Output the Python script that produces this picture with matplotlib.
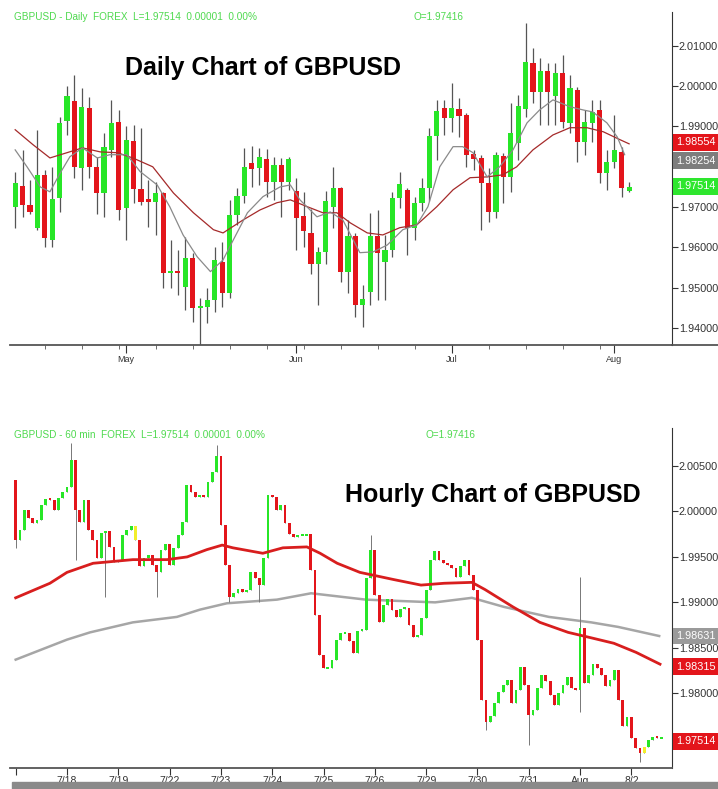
import numpy as np
import pandas as pd
import matplotlib
matplotlib.use("Agg")
import matplotlib.pyplot as plt
from matplotlib.transforms import blended_transform_factory

plt.rcParams['font.family'] = ['Liberation Sans', 'DejaVu Sans']

# ---- daily GBPUSD candles ----
daily_open = [1.9700, 1.9753, 1.9706, 1.9649, 1.9780, 1.9619, 1.9723, 1.9914, 1.9964, 1.9797,
              1.9946, 1.9800, 1.9735, 1.9842, 1.9911, 1.9698, 1.9864, 1.9745, 1.9720, 1.9713,
              1.9735, 1.9537, 1.9542, 1.9502, 1.9574, 1.9450, 1.9453, 1.9470, 1.9564, 1.9487,
              1.9681, 1.9728, 1.9810, 1.9797, 1.9820, 1.9763, 1.9805, 1.9763, 1.9740, 1.9678,
              1.9636, 1.9559, 1.9589, 1.9700, 1.9748, 1.9540, 1.9629, 1.9458, 1.9490, 1.9629,
              1.9564, 1.9594, 1.9723, 1.9743, 1.9649, 1.9711, 1.9748, 1.9877, 1.9946, 1.9921,
              1.9944, 1.9929, 1.9832, 1.9822, 1.9760, 1.9688, 1.9827, 1.9775, 1.9860, 1.9944,
              2.0058, 1.9986, 2.0038, 1.9976, 2.0033, 1.9909, 1.9991, 1.9862, 1.9909, 1.9941,
              1.9785, 1.9812, 1.9837, 1.9741]
daily_high = [1.9788, 1.9842, 1.9768, 1.9892, 1.9792, 1.9800, 1.9924, 2.0000, 2.0028, 1.9996,
              1.9973, 1.9825, 1.9884, 1.9966, 1.9941, 1.9900, 1.9904, 1.9897, 1.9768, 1.9763,
              1.9738, 1.9619, 1.9594, 1.9626, 1.9587, 1.9475, 1.9500, 1.9600, 1.9614, 1.9718,
              1.9748, 1.9847, 1.9852, 1.9847, 1.9845, 1.9825, 1.9822, 1.9825, 1.9773, 1.9738,
              1.9696, 1.9600, 1.9740, 1.9800, 1.9750, 1.9668, 1.9636, 1.9507, 1.9686, 1.9693,
              1.9631, 1.9738, 1.9788, 1.9748, 1.9726, 1.9773, 1.9897, 1.9966, 1.9966, 2.0008,
              1.9971, 1.9934, 1.9842, 1.9830, 1.9797, 1.9837, 1.9835, 1.9959, 1.9978, 2.0157,
              2.0095, 2.0070, 2.0058, 2.0058, 2.0078, 2.0028, 1.9998, 1.9941, 1.9966, 1.9966,
              1.9842, 1.9929, 1.9850, 1.9763]
daily_low = [1.9649, 1.9676, 1.9683, 1.9644, 1.9600, 1.9600, 1.9689, 1.9880, 1.9773, 1.9743,
             1.9773, 1.9683, 1.9676, 1.9825, 1.9668, 1.9619, 1.9710, 1.9706, 1.9651, 1.9631,
             1.9500, 1.9500, 1.9482, 1.9445, 1.9415, 1.9353, 1.9413, 1.9440, 1.9453, 1.9475,
             1.9656, 1.9711, 1.9750, 1.9755, 1.9726, 1.9718, 1.9676, 1.9743, 1.9594, 1.9602,
             1.9535, 1.9458, 1.9559, 1.9649, 1.9515, 1.9487, 1.9428, 1.9403, 1.9458, 1.9470,
             1.9470, 1.9577, 1.9698, 1.9582, 1.9619, 1.9690, 1.9716, 1.9817, 1.9880, 1.9887,
             1.9874, 1.9800, 1.9792, 1.9644, 1.9663, 1.9673, 1.9710, 1.9738, 1.9817, 1.9924,
             1.9958, 1.9904, 1.9904, 1.9904, 1.9897, 1.9884, 1.9812, 1.9830, 1.9862, 1.9760,
             1.9743, 1.9797, 1.9726, 1.9738]
daily_close = [1.9760, 1.9706, 1.9689, 1.9780, 1.9624, 1.9721, 1.9909, 1.9976, 1.9800, 1.9949,
               1.9800, 1.9735, 1.9850, 1.9909, 1.9693, 1.9867, 1.9745, 1.9713, 1.9713, 1.9735,
               1.9537, 1.9542, 1.9537, 1.9574, 1.9450, 1.9455, 1.9470, 1.9569, 1.9487, 1.9681,
               1.9728, 1.9800, 1.9795, 1.9825, 1.9763, 1.9805, 1.9763, 1.9820, 1.9673, 1.9641,
               1.9559, 1.9589, 1.9716, 1.9748, 1.9540, 1.9629, 1.9458, 1.9473, 1.9629, 1.9587,
               1.9594, 1.9723, 1.9758, 1.9649, 1.9711, 1.9748, 1.9877, 1.9939, 1.9921, 1.9946,
               1.9926, 1.9830, 1.9820, 1.9760, 1.9688, 1.9830, 1.9775, 1.9884, 1.9951, 2.0060,
               1.9986, 2.0038, 1.9986, 2.0033, 1.9912, 1.9996, 1.9862, 1.9912, 1.9936, 1.9785,
               1.9812, 1.9842, 1.9748, 1.9751]

# moving averages on the daily chart (candle position, value)
daily_ma_slow_pos = [0, 2.4, 4.7, 7.0, 9.1, 11.5, 13.8, 15.9, 18.6, 21.4, 24.1, 26.8, 28.1, 30.8,
                     33.1, 35.4, 37.2, 39.5, 41.6, 43.5, 45.3, 47.6, 49.7, 52.0, 54.3, 57.0,
                     59.2, 61.5, 63.8, 65.9, 67.8, 70.0, 72.7, 75.0, 77.3, 79.5, 81.8, 83.0]
daily_ma_slow = [1.9892, 1.9855, 1.9822, 1.9835, 1.9847, 1.9837, 1.9835, 1.9822, 1.9800, 1.9735,
                 1.9686, 1.9644, 1.9636, 1.9668, 1.9693, 1.9711, 1.9718, 1.9701, 1.9686, 1.9686,
                 1.9661, 1.9636, 1.9631, 1.9649, 1.9656, 1.9701, 1.9743, 1.9773, 1.9775, 1.9780,
                 1.9800, 1.9842, 1.9879, 1.9897, 1.9897, 1.9887, 1.9867, 1.9857]
daily_ma_fast_pos = [0, 1.6, 3.4, 4.7, 6.1, 7.4, 9.1, 11.1, 12.8, 15.1, 16.9, 19.2, 20.9, 22.7,
                     24.6, 26.4, 28.1, 29.5, 31.4, 33.5, 35.8, 37.2, 38.5, 40.8, 42.6, 44.3,
                     46.6, 48.4, 50.3, 52.4, 54.3, 55.8, 57.4, 59.2, 60.5, 61.9, 63.8, 65.5,
                     67.3, 69.2, 70.9, 72.7, 75.0, 76.8, 78.1, 80.0, 81.4, 82.4]
daily_ma_fast = [1.9842, 1.9800, 1.9750, 1.9738, 1.9785, 1.9825, 1.9847, 1.9822, 1.9830, 1.9830,
                 1.9788, 1.9755, 1.9701, 1.9631, 1.9577, 1.9540, 1.9569, 1.9619, 1.9686, 1.9726,
                 1.9750, 1.9755, 1.9718, 1.9676, 1.9688, 1.9668, 1.9587, 1.9589, 1.9606, 1.9644,
                 1.9656, 1.9701, 1.9800, 1.9850, 1.9850, 1.9835, 1.9775, 1.9800, 1.9842, 1.9909,
                 1.9941, 1.9966, 1.9949, 1.9941, 1.9936, 1.9909, 1.9874, 1.9830]

# ---- hourly chart (2-hour steps) ----
hourly_first_open = 2.0035
hourly_close = [1.9969, 1.9980, 2.0002, 1.9993, 1.9987, 1.9991, 2.0007, 2.0014, 2.0013, 2.0002,
                2.0015, 2.0021, 2.0027, 2.0057, 2.0002, 1.9988, 2.0013, 1.9980, 1.9969, 1.9949,
                1.9976, 1.9979, 1.9961, 1.9944, 1.9947, 1.9974, 1.9980, 1.9984, 1.9969, 1.9940,
                1.9949, 1.9952, 1.9941, 1.9933, 1.9958, 1.9964, 1.9941, 1.9960, 1.9974, 1.9988,
                2.0029, 2.0021, 2.0016, 2.0018, 2.0016, 2.0032, 2.0043, 2.0061, 1.9985, 1.9941,
                1.9906, 1.9910, 1.9915, 1.9911, 1.9914, 1.9933, 1.9927, 1.9919, 1.9949, 2.0018,
                2.0016, 2.0002, 2.0007, 1.9987, 1.9975, 1.9972, 1.9974, 1.9974, 1.9975, 1.9936,
                1.9886, 1.9842, 1.9828, 1.9828, 1.9837, 1.9859, 1.9866, 1.9866, 1.9858, 1.9844,
                1.9869, 1.9870, 1.9927, 1.9958, 1.9908, 1.9878, 1.9897, 1.9904, 1.9892, 1.9884,
                1.9893, 1.9894, 1.9875, 1.9862, 1.9864, 1.9883, 1.9914, 1.9947, 1.9957, 1.9947,
                1.9943, 1.9941, 1.9938, 1.9928, 1.9940, 1.9947, 1.9930, 1.9914, 1.9859, 1.9793,
                1.9768, 1.9775, 1.9789, 1.9801, 1.9809, 1.9815, 1.9789, 1.9804, 1.9829, 1.9809,
                1.9776, 1.9782, 1.9806, 1.9820, 1.9814, 1.9798, 1.9787, 1.9800, 1.9809, 1.9818,
                1.9806, 1.9804, 1.9872, 1.9811, 1.9820, 1.9832, 1.9828, 1.9820, 1.9808, 1.9815,
                1.9826, 1.9793, 1.9764, 1.9774, 1.9751, 1.9740, 1.9734, 1.9741, 1.9749, 1.9752,
                1.9751, 1.9751]
hourly_spike_hi_idx = [0, 13, 47, 83, 132]
hourly_spike_hi = [2.0035, 2.0075, 2.0073, 1.9974, 1.9928]
hourly_spike_lo_idx = [0, 14, 21, 33, 50, 57, 110, 120, 132, 146]
hourly_spike_lo = [1.9960, 1.9947, 1.9906, 1.9906, 1.9900, 1.9900, 1.9760, 1.9743, 1.9779, 1.9724]
hourly_yellow_idx = [28, 147]
hourly_days = ['', '7/18', '7/19', '7/22', '7/23', '7/24', '7/25', '7/26',
               '7/29', '7/30', '7/31', 'Aug', '8/2']
bars_per_day = 12

hourly_ma_red_pos = [0, 8.0, 12.0, 18.1, 27.4, 35.4, 40.1, 44.7, 48.3, 50.8, 57.8, 62.5, 68.1,
                     71.2, 75.2, 80.5, 88.5, 94.8, 100.2, 106.7, 109.8, 116.3, 122.6, 129.2,
                     134.6, 139.9, 145.1, 150.7]
hourly_ma_red = [1.9905, 1.9921, 1.9933, 1.9943, 1.9947, 1.9947, 1.9950, 1.9958, 1.9963, 1.9960,
                 1.9954, 1.9960, 1.9961, 1.9954, 1.9943, 1.9933, 1.9925, 1.9919, 1.9921, 1.9922,
                 1.9914, 1.9895, 1.9878, 1.9867, 1.9861, 1.9855, 1.9845, 1.9832]
hourly_ma_grey_pos = [0, 12.0, 17.4, 27.4, 37.7, 43.1, 49.4, 61.1, 69.1, 81.9, 98.1, 106.7,
                      114.2, 124.7, 134.6, 140.9, 150.5]
hourly_ma_grey = [1.9837, 1.9859, 1.9867, 1.9878, 1.9884, 1.9892, 1.9899, 1.9903, 1.9910, 1.9903,
                  1.9900, 1.9905, 1.9895, 1.9884, 1.9878, 1.9873, 1.9863]

W, H = 718, 789
GREEN = '#27e627'
RED = '#e3151b'
HDR = '#4fd94f'


def box(l, t, r, b):
    return [l / W, 1 - b / H, (r - l) / W, (b - t) / H]


def candles(ax, o, h, l, c, width, wick_col, wick_lw, min_body, colors):
    x = np.arange(len(c))
    ax.vlines(x, l, h, color=wick_col, lw=wick_lw, zorder=1)
    body = np.maximum(np.abs(c - o), min_body)
    bottom = np.minimum(o, c) - (body - np.abs(c - o)) / 2
    ax.bar(x, body, bottom=bottom, width=width, color=colors, linewidth=0, zorder=2)


def tag(ax, price, text, fc, dy=0):
    tr = blended_transform_factory(ax.transAxes, ax.transData)
    ax.annotate(text, xy=(1.0, price), xycoords=tr, xytext=(4, dy),
                textcoords='offset pixels', ha='left', va='center', fontsize=7.8,
                color='white', annotation_clip=False, zorder=10,
                bbox=dict(boxstyle='square,pad=0.3', fc=fc, ec='none'))


def style(ax):
    ax.set_facecolor('white')
    ax.spines['top'].set_visible(False)
    ax.spines['left'].set_visible(False)
    ax.spines['right'].set_color('#333333')
    ax.spines['bottom'].set_color('#555555')
    ax.spines['bottom'].set_linewidth(1.3)
    ax.yaxis.tick_right()
    ax.tick_params(axis='y', direction='out', length=4, labelsize=7.8,
                   colors='#333333', pad=1)


fig = plt.figure(figsize=(W / 100, H / 100), dpi=100)
fig.patch.set_facecolor('white')

# ---------------- daily ----------------
ax1 = fig.add_axes(box(10, 12, 672, 345))
style(ax1)
do, dh, dl, dc = map(np.array, (daily_open, daily_high, daily_low, daily_close))
dcol = [GREEN if c >= o else RED for o, c in zip(do, dc)]
candles(ax1, do, dh, dl, dc, 0.7, '#555555', 0.9, 0.0003, dcol)
ax1.plot(daily_ma_slow_pos, daily_ma_slow, color='#a52a2a', lw=0.9, zorder=3)
ax1.plot(daily_ma_fast_pos, daily_ma_fast, color='#8a8a8a', lw=0.9, zorder=3)
ax1.set_xlim(-0.7, 88.8)
ax1.set_ylim(1.9358, 2.0184)
yt1 = np.arange(1.94, 2.0101, 0.01)
ax1.set_yticks(yt1)
# the 1.98000 label sits under the price tags in the reference
ax1.set_yticklabels(['' if abs(v - 1.98) < 1e-6 else '%.5f' % v for v in yt1])

dates = pd.bdate_range(end='2007-08-03', periods=len(dc))
major = [i for i in range(1, len(dates)) if dates[i].month != dates[i - 1].month]
minor = [i for i in range(len(dates)) if dates[i].weekday() == 0 and i not in major]
ax1.set_xticks(major)
ax1.set_xticklabels([dates[i].strftime('%b') for i in major])
ax1.set_xticks(minor, minor=True)
ax1.tick_params(axis='x', which='major', length=6, direction='out', labelsize=6.5,
                colors='#333333', pad=1)
ax1.tick_params(axis='x', which='minor', length=3, direction='out', colors='#555555')
ax1.plot([1, 1.07], [0, 0], transform=ax1.transAxes, clip_on=False,
         color='#555555', lw=1.3)

tag(ax1, 1.98554, '1.98554', '#e3151b', 2)
tag(ax1, 1.98254, '1.98254', '#7d7d7d', -4)
tag(ax1, 1.97514, '1.97514', '#2ee62e')

fig.text(14 / W, 1 - 17 / H, 'GBPUSD - Daily  FOREX  L=1.97514  0.00001  0.00%',
         color=HDR, fontsize=7.2, va='center', ha='left')
fig.text(413 / W, 1 - 17 / H, 'O=1.97416', color=HDR, fontsize=7.2, va='center')
fig.text(125 / W, 1 - 68 / H, 'Daily Chart of GBPUSD', fontsize=18,
         fontweight='bold', va='center', ha='left', color='black')

# ---------------- hourly ----------------
ax2 = fig.add_axes(box(10, 428, 672, 768))
style(ax2)
hc = np.array(hourly_close)
ho = np.r_[hourly_first_open, hc[:-1]]
hh = np.maximum(ho, hc)
hl = np.minimum(ho, hc)
hh[hourly_spike_hi_idx] = np.maximum(hh[hourly_spike_hi_idx], hourly_spike_hi)
hl[hourly_spike_lo_idx] = np.minimum(hl[hourly_spike_lo_idx], hourly_spike_lo)
hcol = [GREEN if c >= o else RED for o, c in zip(ho, hc)]
for i in hourly_yellow_idx:
    hcol[i] = '#f2ee2a'
ax2.plot(hourly_ma_grey_pos, hourly_ma_grey, color='#a6a6a6', lw=1.8, zorder=1)
candles(ax2, ho, hh, hl, hc, 0.65, '#777777', 0.7, 0.0002, hcol)
ax2.plot(hourly_ma_red_pos, hourly_ma_red, color='#d81e1e', lw=2.0, zorder=3)
ax2.set_xlim(-1.33, 153.5)
ax2.set_ylim(1.97178, 2.00918)
yt2 = np.arange(1.975, 2.0051, 0.005)
ax2.set_yticks(yt2)
# 1.97500 is fully covered by the last-price tag in the reference
ax2.set_yticklabels(['' if abs(v - 1.975) < 1e-6 else '%.5f' % v for v in yt2])
ax2.set_xticks(np.arange(len(hourly_days)) * bars_per_day)
ax2.set_xticklabels(hourly_days)
ax2.tick_params(axis='x', length=5, direction='out', labelsize=7.5,
                colors='#333333', pad=1)

tag(ax2, 1.98631, '1.98631', '#9a9a9a')
tag(ax2, 1.98315, '1.98315', '#e3151b', -2)
tag(ax2, 1.97514, '1.97514', '#e3151b', -4)

fig.text(14 / W, 1 - 435 / H, 'GBPUSD - 60 min  FOREX  L=1.97514  0.00001  0.00%',
         color=HDR, fontsize=7.2, va='center', ha='left')
fig.text(425 / W, 1 - 435 / H, 'O=1.97416', color=HDR, fontsize=7.2, va='center')
fig.text(345 / W, 1 - 495 / H, 'Hourly Chart of GBPUSD', fontsize=18,
         fontweight='bold', va='center', ha='left', color='black')

# grey strip along the bottom edge
fig.patches.append(plt.Rectangle((12 / W, 0), 1, 7 / H, transform=fig.transFigure,
                                 color='#8a8a8a', zorder=20))

fig.savefig('out.png', dpi=100, facecolor='white')
